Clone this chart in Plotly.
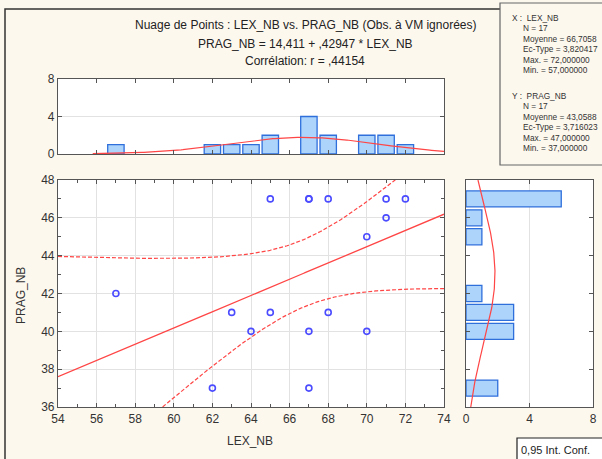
import numpy as np
import plotly.graph_objects as go

# ---- data ----
lex_nb = [57, 62, 63, 64, 65, 65, 67, 67, 67, 67, 68, 68, 70, 70, 71, 71, 72]
prag_nb = [42, 37, 41, 40, 47, 41, 47, 47, 40, 37, 47, 41, 45, 40, 47, 46, 47]
x_ticks = [54, 56, 58, 60, 62, 64, 66, 68, 70, 72, 74]
y_ticks = [36, 38, 40, 42, 44, 46, 48]
count_ticks = [0, 4, 8]
title_lines = ["Nuage de Points : LEX_NB vs. PRAG_NB (Obs. à VM ignorées)",
               "PRAG_NB = 14,411 + ,42947 * LEX_NB",
               "Corrélation: r = ,44154"]
stats_x = ["X :  LEX_NB", "N = 17", "Moyenne = 66,7058", "Ec-Type = 3,820417",
           "Max. = 72,000000", "Min. = 57,000000"]
stats_y = ["Y :  PRAG_NB", "N = 17", "Moyenne = 43,0588", "Ec-Type = 3,716023",
           "Max. = 47,000000", "Min. = 37,000000"]
conf_label = "0,95 Int. Conf."
t_crit = 2.1314  # t(0.975, 15)

# ---- derived (regression, CI, normal curves) ----
x = np.array(lex_nb, float)
y = np.array(prag_nb, float)
n = len(x)
b, a = np.polyfit(x, y, 1)
resid = y - (a + b * x)
s = np.sqrt(np.sum(resid ** 2) / (n - 2))
sxx = np.sum((x - x.mean()) ** 2)
xg = np.linspace(54, 74, 301)
yhat = a + b * xg
half = t_crit * s * np.sqrt(1 / n + (xg - x.mean()) ** 2 / sxx)


def normal_counts(v, mu, sd):
    return n * np.exp(-0.5 * ((v - mu) / sd) ** 2) / (sd * np.sqrt(2 * np.pi))


xn = np.linspace(55.8, 74, 200)
yn_top = normal_counts(xn, x.mean(), x.std(ddof=1))
yv = np.linspace(36, 48, 200)
xn_right = normal_counts(yv, y.mean(), y.std(ddof=1))

W, H = 602, 459
def px(v): return v / W
def py(v): return 1 - v / H

BG = "#fdf8ee"
RED = "#ff4545"
BAR_FILL = "#add4fb"
BAR_LINE = "#2f6fdc"
AXC = "#555555"
FONT = "Liberation Sans, Arial, sans-serif"

fig = go.Figure()

# top histogram
fig.add_trace(go.Histogram(x=lex_nb, xbins=dict(start=53.5, end=74.5, size=1),
                           marker=dict(color=BAR_FILL, line=dict(color=BAR_LINE, width=1.3)),
                           xaxis="x2", yaxis="y2", showlegend=False))
fig.add_trace(go.Scatter(x=xn, y=yn_top, mode="lines", line=dict(color=RED, width=1.2),
                         xaxis="x2", yaxis="y2", showlegend=False))
# right histogram
fig.add_trace(go.Histogram(y=prag_nb, ybins=dict(start=35.5, end=48.5, size=1),
                           marker=dict(color=BAR_FILL, line=dict(color=BAR_LINE, width=1.3)),
                           xaxis="x3", yaxis="y3", showlegend=False))
fig.add_trace(go.Scatter(x=xn_right, y=yv, mode="lines", line=dict(color=RED, width=1.2),
                         xaxis="x3", yaxis="y3", showlegend=False))
# scatter
fig.add_trace(go.Scatter(x=xg, y=yhat + half, mode="lines",
                         line=dict(color=RED, width=1.2, dash="4px,2px"), showlegend=False))
fig.add_trace(go.Scatter(x=xg, y=yhat - half, mode="lines",
                         line=dict(color=RED, width=1.2, dash="4px,2px"), showlegend=False))
fig.add_trace(go.Scatter(x=xg, y=yhat, mode="lines", line=dict(color=RED, width=1.3),
                         showlegend=False))
fig.add_trace(go.Scatter(x=lex_nb, y=prag_nb, mode="markers",
                         marker=dict(symbol="circle-open", size=6, color="#4b4bff",
                                     line=dict(width=1.6)),
                         showlegend=False))

ax_common = dict(showline=True, linecolor=AXC, linewidth=1.2, mirror="ticks",
                 ticks="inside", ticklen=4, tickcolor=AXC, zeroline=False, automargin=False,
                 tickfont=dict(size=12, color="#333333", family=FONT),
                 gridcolor="#e2e2e2", gridwidth=1)

sx = (58, 444)
sy = (180, 407)
fig.update_layout(
    width=W, height=H, margin=dict(l=0, r=0, t=0, b=0),
    paper_bgcolor=BG, plot_bgcolor="white", bargap=0.15,
    font=dict(family=FONT, color="#333333"),
    xaxis=dict(domain=[px(sx[0]), px(sx[1])], range=[54, 74], tickvals=x_ticks,
               minor=dict(dtick=1, tick0=54, ticks="inside", ticklen=3, tickcolor=AXC, showgrid=False),
               showgrid=True, **ax_common),
    yaxis=dict(domain=[py(sy[1]), py(sy[0])], range=[36, 48], tickvals=y_ticks,
               minor=dict(dtick=1, tick0=36, ticks="inside", ticklen=3, tickcolor=AXC, showgrid=False),
               showgrid=True, **ax_common),
    xaxis2=dict(domain=[px(sx[0]), px(sx[1])], range=[54, 74], tickvals=x_ticks[1:-1],
                showticklabels=False, showgrid=False, anchor="y2", **ax_common),
    yaxis2=dict(domain=[py(154), py(79)], range=[0, 8], tickvals=count_ticks,
                showgrid=True, anchor="x2", **ax_common),
    xaxis3=dict(domain=[px(466), px(593)], range=[0, 8], tickvals=count_ticks,
                showgrid=True, anchor="y3", **ax_common),
    yaxis3=dict(domain=[py(sy[1]), py(sy[0])], range=[36, 48], tickvals=y_ticks[1:-1],
                showticklabels=False, showgrid=False, anchor="x3", **ax_common),
)

shapes = [
    dict(type="rect", xref="paper", yref="paper", x0=px(5), x1=px(620), y0=py(480), y1=py(9),
         line=dict(color="#333333", width=1.5), fillcolor="rgba(0,0,0,0)", layer="below"),
    dict(type="rect", xref="paper", yref="paper", x0=px(500), x1=px(610), y0=py(165), y1=py(3),
         line=dict(color="#666666", width=1.2), fillcolor=BG),
    dict(type="rect", xref="paper", yref="paper", x0=px(517), x1=px(610), y0=py(470), y1=py(438),
         line=dict(color="#222222", width=1.2), fillcolor="white"),
]
fig.update_layout(shapes=shapes)

ann = []
for i, (t, yy) in enumerate(zip(title_lines, [25, 44, 61])):
    ann.append(dict(text=t, x=px(305), y=py(yy), xref="paper", yref="paper",
                    showarrow=False, xanchor="center", yanchor="middle",
                    font=dict(size=12, color="#222222", family=FONT)))
for i, t in enumerate(stats_x):
    ann.append(dict(text=t, x=px(510 if i == 0 else 521), y=py(18 + 10.4 * i), xref="paper",
                    yref="paper", showarrow=False, xanchor="left", yanchor="middle",
                    font=dict(size=8.3, color="#333333", family=FONT)))
for i, t in enumerate(stats_y):
    ann.append(dict(text=t, x=px(510 if i == 0 else 521), y=py(96 + 10.4 * i), xref="paper",
                    yref="paper", showarrow=False, xanchor="left", yanchor="middle",
                    font=dict(size=8.3, color="#333333", family=FONT)))
ann.append(dict(text=conf_label, x=px(519), y=py(450), xref="paper", yref="paper",
                showarrow=False, xanchor="left", yanchor="middle",
                font=dict(size=11, color="#222222", family=FONT)))
ann.append(dict(text="LEX_NB", x=px(250), y=py(441), xref="paper", yref="paper",
                showarrow=False, xanchor="center", yanchor="middle",
                font=dict(size=12, color="#333333", family=FONT)))
ann.append(dict(text="PRAG_NB", x=px(21), y=py(296), xref="paper", yref="paper",
                showarrow=False, xanchor="center", yanchor="middle", textangle=-90,
                font=dict(size=12, color="#333333", family=FONT)))
fig.update_layout(annotations=ann)

fig.write_html("out.html", config={"displayModeBar": False},
               post_script="document.body.style.margin='0px';")
